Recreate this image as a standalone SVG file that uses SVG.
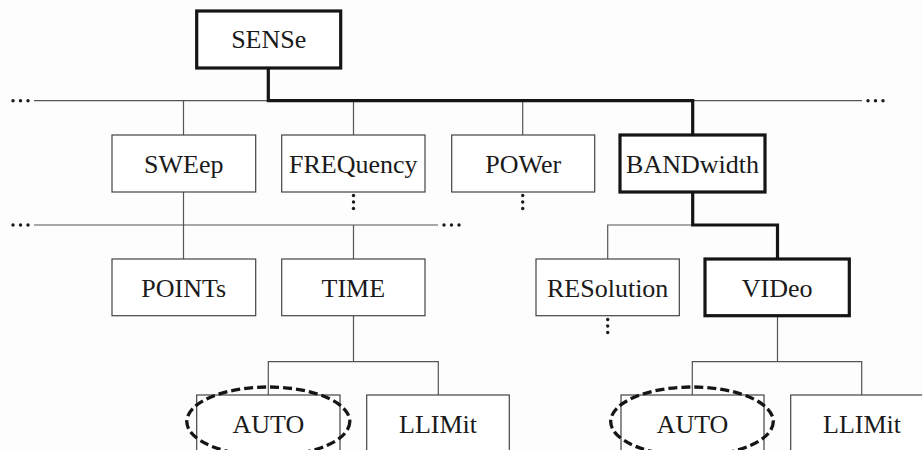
<svg xmlns="http://www.w3.org/2000/svg" width="922" height="450" viewBox="0 0 922 450">
  <style>
    .box { fill: #fff; stroke: #444; stroke-width: 1.2; }
    .sel { fill: #fff; stroke: #151515; stroke-width: 3.2; }
    .lbl { font-size: 26px; fill: #1a1a1a; text-anchor: middle; }
    .thin { fill: none; stroke: #555; stroke-width: 1.2; }
    .thick { fill: none; stroke: #151515; stroke-width: 3.2; stroke-linejoin: miter; }
    .dot { fill: #1a1a1a; }
    .ring { fill: none; stroke: #151515; stroke-width: 3.3; stroke-dasharray: 9 4; }
  </style>
  <rect width="922" height="450" fill="#fdfdfd"/>

  <g id="connectors">
    <!-- upper bus -->
    <path class="thin" d="M34 100.7 H862"/>
    <path class="thin" d="M183.5 100.7 V135 M353.5 100.7 V135 M522.7 100.7 V135"/>
    <!-- lower bus -->
    <path class="thin" d="M34 225 H438"/>
    <path class="thin" d="M183.5 192 V259 M353.5 225 V259"/>
    <!-- BANDwidth children -->
    <path class="thin" d="M692.7 225 H607.7 V259"/>
    <!-- TIME children -->
    <path class="thin" d="M353.5 315.7 V361.7 M268.3 395 V361.7 H438.3 V395"/>
    <!-- VIDeo children -->
    <path class="thin" d="M777.5 315.7 V361.7 M692.3 395 V361.7 H861.7 V395"/>
    <!-- highlighted path -->
    <path class="thick" d="M268.3 68 V100.7 H692.7 V135"/>
    <path class="thick" d="M692.7 192 V225 H777.5 V259"/>
    <!-- continuation marks -->
    <g class="dot">
      <circle cx="13" cy="100.7" r="1.7"/><circle cx="20.5" cy="100.7" r="1.7"/><circle cx="28" cy="100.7" r="1.7"/>
      <circle cx="868" cy="100.7" r="1.7"/><circle cx="875.5" cy="100.7" r="1.7"/><circle cx="883" cy="100.7" r="1.7"/>
      <circle cx="13" cy="225" r="1.7"/><circle cx="20.5" cy="225" r="1.7"/><circle cx="28" cy="225" r="1.7"/>
      <circle cx="444" cy="225" r="1.7"/><circle cx="451.5" cy="225" r="1.7"/><circle cx="459" cy="225" r="1.7"/>
      <circle cx="353.5" cy="195.5" r="1.7"/><circle cx="353.5" cy="202" r="1.7"/><circle cx="353.5" cy="208.5" r="1.7"/>
      <circle cx="522.7" cy="195.5" r="1.7"/><circle cx="522.7" cy="202" r="1.7"/><circle cx="522.7" cy="208.5" r="1.7"/>
      <circle cx="607.7" cy="319.5" r="1.7"/><circle cx="607.7" cy="326" r="1.7"/><circle cx="607.7" cy="332.5" r="1.7"/>
    </g>
  </g>

  <g font-family="Liberation Serif, Times New Roman, serif">
  <g id="sense"><rect class="sel" x="196.7" y="11" width="144" height="57"/><text class="lbl" x="268.7" y="48">SENSe</text></g>

  <g id="sweep"><rect class="box" x="112" y="135" width="143.7" height="57"/><text class="lbl" x="183.8" y="173">SWEep</text></g>
  <g id="frequency"><rect class="box" x="281.7" y="135" width="143.3" height="57"/><text class="lbl" x="353.3" y="173">FREQuency</text></g>
  <g id="power"><rect class="box" x="451.7" y="135" width="143" height="57"/><text class="lbl" x="523.2" y="173">POWer</text></g>
  <g id="bandwidth"><rect class="sel" x="620" y="135" width="145" height="57"/><text class="lbl" x="692.5" y="173">BANDwidth</text></g>

  <g id="points"><rect class="box" x="112" y="259" width="143.7" height="56.7"/><text class="lbl" x="183.8" y="297">POINTs</text></g>
  <g id="time"><rect class="box" x="281.7" y="259" width="143.3" height="56.7"/><text class="lbl" x="353.3" y="297">TIME</text></g>
  <g id="resolution"><rect class="box" x="536" y="259" width="143.3" height="56.7"/><text class="lbl" x="607.7" y="297">RESolution</text></g>
  <g id="video"><rect class="sel" x="705" y="259" width="144.3" height="56.7"/><text class="lbl" x="777.2" y="297">VIDeo</text></g>

  <g id="time-auto"><rect class="box" x="196.7" y="395" width="143.3" height="70"/><text class="lbl" x="268.3" y="433">AUTO</text><ellipse class="ring" cx="268.3" cy="421.5" rx="81.5" ry="34.5"/></g>
  <g id="time-llimit"><rect class="box" x="366.7" y="395" width="142.6" height="70"/><text class="lbl" x="438" y="433">LLIMit</text></g>
  <g id="video-auto"><rect class="box" x="621" y="395" width="143" height="70"/><text class="lbl" x="692.5" y="433">AUTO</text><ellipse class="ring" cx="692" cy="421.5" rx="81.3" ry="34.5"/></g>
  <g id="video-llimit"><rect class="box" x="790.7" y="395" width="142.6" height="70"/><text class="lbl" x="862" y="433">LLIMit</text></g>
  </g>
</svg>
